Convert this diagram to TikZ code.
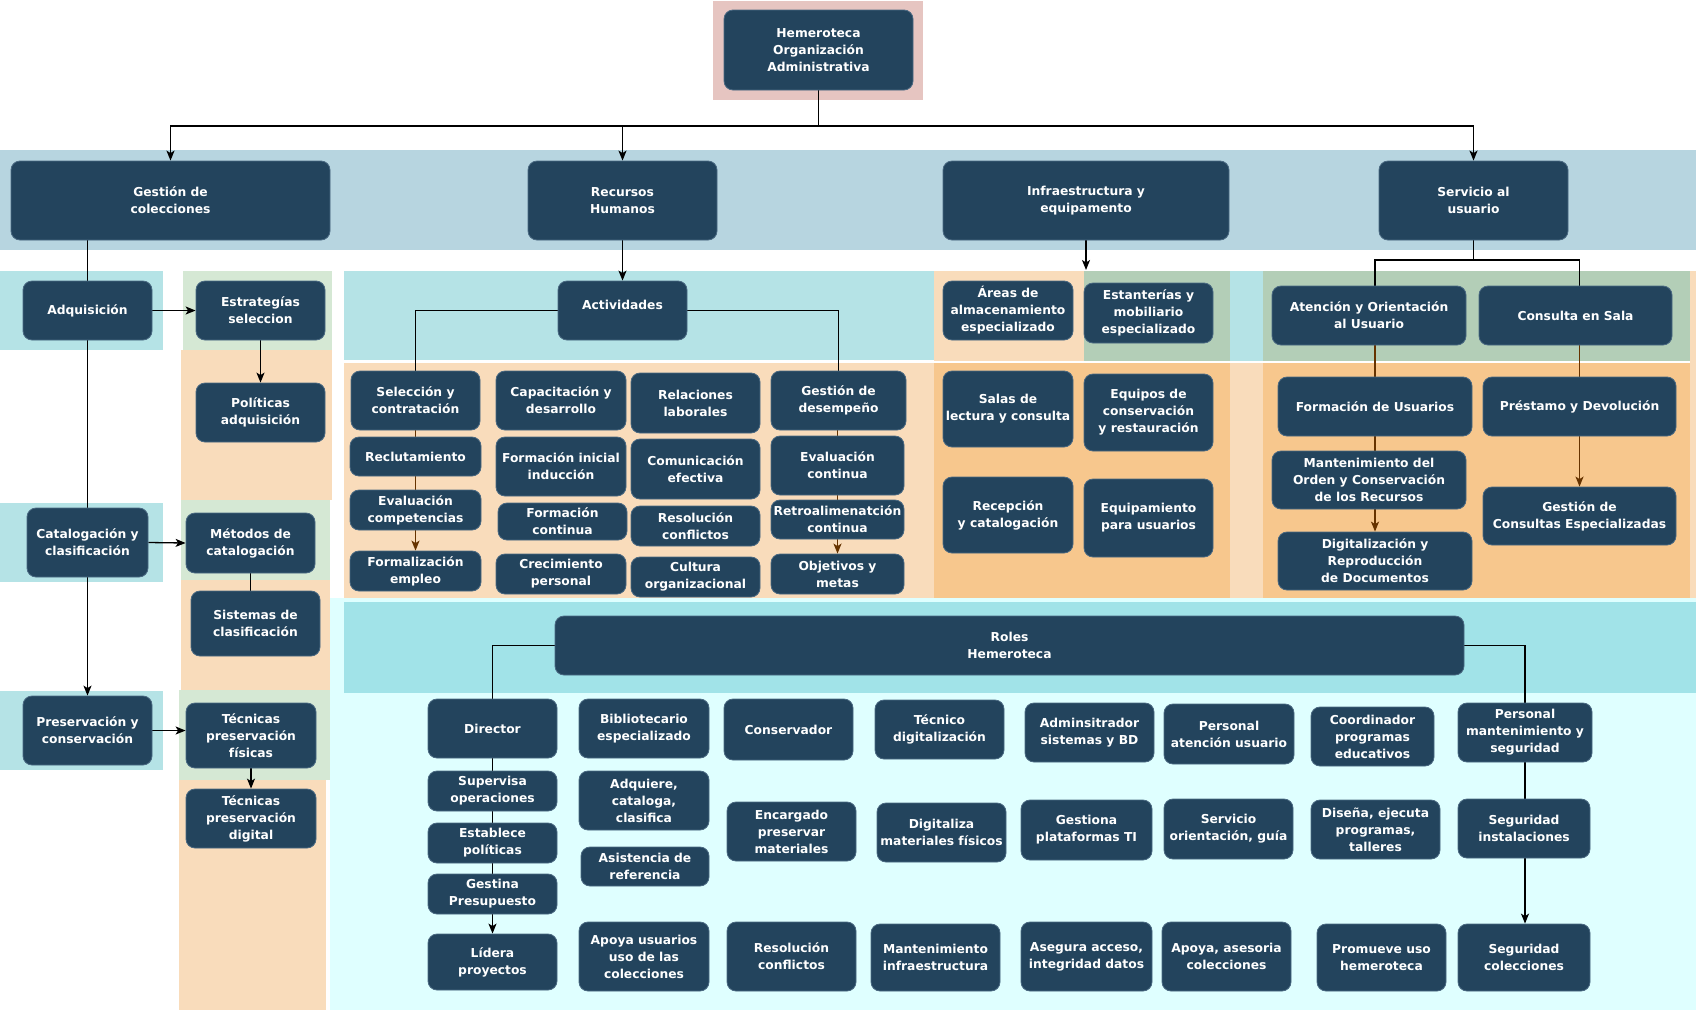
\documentclass[tikz,border=0pt]{standalone}
\usepackage{fontspec}
\setmainfont{DejaVu Sans}
\usepackage{tikz}
\usetikzlibrary{arrows.meta}
\pgfdeclarelayer{bands}
\pgfdeclarelayer{links}
\pgfsetlayers{bands,links,main}

\begin{document}
\begin{tikzpicture}[x=1pt,y=-1pt,
    cell/.style={draw=cellrim, fill=cellfill, line width=0.8pt, rounded corners=9pt,
        text=white, align=center, inner sep=0pt,
        font=\bfseries\fontsize{12.3}{17}\selectfont},
    wh/.style 2 args={minimum width=#1pt, minimum height=#2pt},
    link/.style={line width=1.3pt, draw=black},
    flow/.style={link, -{Stealth[length=10pt,width=8pt,inset=2.5pt]}},
    sublink/.style={line width=1.3pt, draw=linkbrown},
    subflow/.style={sublink, -{Stealth[length=10pt,width=8pt,inset=2.5pt]}}]
    % Define colors
    \definecolor{cellfill}{RGB}{35,68,93}
    \definecolor{cellrim}{RGB}{74,105,130}
    \definecolor{bandtop}{RGB}{183,213,224}
    \definecolor{bandcyan}{RGB}{181,227,230}
    \definecolor{bandgreen}{RGB}{213,232,212}
    \definecolor{bandsage}{RGB}{179,206,183}
    \definecolor{bandpeach}{RGB}{249,220,187}
    \definecolor{bandorange}{RGB}{247,199,141}
    \definecolor{bandpink}{RGB}{230,197,193}
    \definecolor{bandroles}{RGB}{161,227,232}
    \definecolor{bandpale}{RGB}{223,255,255}
    \definecolor{linkbrown}{RGB}{102,51,0}

    \useasboundingbox (0,0) rectangle (1696,1010);

    % Background bands
    \begin{pgfonlayer}{bands}
    \fill[bandpink] (713,1) rectangle (923,100);
    \fill[bandtop] (0,150) rectangle (1696,250);
    \fill[bandcyan] (0,271) rectangle (163,350);
    \fill[bandcyan] (0,503) rectangle (163,582);
    \fill[bandcyan] (0,691) rectangle (163,770);
    \fill[bandgreen] (183,271) rectangle (332,350);
    \fill[bandpeach] (181,350) rectangle (332,500);
    \fill[bandgreen] (181,500) rectangle (330,580);
    \fill[bandpeach] (181,580) rectangle (330,690);
    \fill[bandgreen] (179,690) rectangle (330,780);
    \fill[bandpeach] (179,780) rectangle (326,1010);
    \fill[bandcyan] (344,271) rectangle (934,360);
    \fill[bandpeach] (344,363) rectangle (934,600);
    \fill[bandpeach] (934,271) rectangle (1084,361);
    \fill[bandsage] (1084,271) rectangle (1230,361);
    \fill[bandorange] (934,363) rectangle (1230,600);
    \fill[bandcyan] (1230,271) rectangle (1263,361);
    \fill[bandpeach] (1230,363) rectangle (1263,600);
    \fill[bandsage] (1263,271) rectangle (1690,361);
    \fill[bandorange] (1263,363) rectangle (1690,602);
    \fill[bandpeach] (1690,271) rectangle (1696,602);
    \fill[bandpale] (330,598) rectangle (1696,1010);
    \fill[bandroles] (344,602) rectangle (1696,693);
    \end{pgfonlayer}

    % Top and first level
    \node[cell, wh={189}{80}] (hem) at (818.5,50) {Hemeroteca\\Organización\\Administrativa};
    \node[cell, wh={319}{79}] (gcol) at (170.5,200.5) {Gestión de\\colecciones};
    \node[cell, wh={189}{79}] (rrhh) at (622.5,200.5) {Recursos\\Humanos};
    \node[cell, wh={286}{79}] (infra) at (1086,200.5) {Infraestructura y\\equipamento};
    \node[cell, wh={189}{79}] (serv) at (1473.5,200.5) {Servicio al\\usuario};
    \coordinate (hemjoin) at (818.5,126);
    \coordinate (infraend) at (1086,270);

    % Gestion de colecciones
    \node[cell, wh={129}{59}] (adq) at (87.5,310.5) {Adquisición};
    \node[cell, wh={129}{59}] (estr) at (260.5,310.5) {Estrategías\\seleccion};
    \node[cell, wh={129}{59}] (polit) at (260.5,412.5) {Políticas\\adquisición};
    \node[cell, wh={121}{69}] (catal) at (87.5,542.5) {Catalogación y\\clasificación};
    \node[cell, wh={129}{60}] (metod) at (250.5,543) {Métodos de\\catalogación};
    \node[cell, wh={129}{65}] (sistm) at (255.5,623.5) {Sistemas de\\clasificación};
    \node[cell, wh={129}{69}] (presv) at (87.5,730.5) {Preservación y\\conservación};
    \node[cell, wh={130}{65}] (tfis) at (251,735.5) {Técnicas\\preservación\\físicas};
    \node[cell, wh={130}{59}] (tdig) at (251,818.5) {Técnicas\\preservación\\digital};

    % Recursos humanos
    \node[cell, wh={129}{59}, text depth=12pt] (activ) at (622.5,310.5) {Actividades};
    \node[cell, wh={129}{59}] (selec) at (415.5,400.5) {Selección y\\contratación};
    \node[cell, wh={131}{39}] (reclu) at (415.5,456.5) {Reclutamiento};
    \node[cell, wh={131}{40}] (evcom) at (415.5,510) {Evaluación\\competencias};
    \node[cell, wh={131}{40}] (forme) at (415.5,571) {Formalización\\empleo};
    \node[cell, wh={130}{59}] (capac) at (561,400.5) {Capacitación y\\desarrollo};
    \node[cell, wh={130}{59}] (finic) at (561,466.5) {Formación inicial\\inducción};
    \node[cell, wh={129}{37}] (fcont) at (562.5,521.5) {Formación\\continua};
    \node[cell, wh={130}{40}] (creci) at (561,574) {Crecimiento\\personal};
    \node[cell, wh={129}{60}] (relac) at (695.5,403) {Relaciones\\laborales};
    \node[cell, wh={129}{60}] (comun) at (695.5,469) {Comunicación\\efectiva};
    \node[cell, wh={129}{40}] (rconf) at (695.5,526) {Resolución\\conflictos};
    \node[cell, wh={129}{40}] (cultu) at (695.5,577) {Cultura\\organizacional};
    \node[cell, wh={135}{59}] (gdes) at (838.5,400.5) {Gestión de\\desempeño};
    \node[cell, wh={133}{59}] (evcon) at (837.5,465.5) {Evaluación\\continua};
    \node[cell, wh={133}{39}] (retro) at (837.5,519.5) {Retroalimenatción\\continua};
    \node[cell, wh={133}{40}] (objet) at (837.5,574) {Objetivos y\\metas};

    % Infraestructura
    \node[cell, wh={130}{59}] (areas) at (1008,310.5) {Áreas de\\almacenamiento\\especializado};
    \node[cell, wh={129}{60}] (estan) at (1148.5,313) {Estanterías y\\mobiliario\\especializado};
    \node[cell, wh={130}{76}] (salas) at (1008,409) {Salas de\\lectura y consulta};
    \node[cell, wh={129}{77}] (equip) at (1148.5,412.5) {Equipos de\\conservación\\y restauración};
    \node[cell, wh={130}{76}] (recep) at (1008,515) {Recepción\\y catalogación};
    \node[cell, wh={129}{78}] (equsr) at (1148.5,518) {Equipamiento\\para usuarios};

    % Servicio al usuario
    \coordinate (servjoin) at (1473.5,260);
    \node[cell, wh={194}{59}] (atenc) at (1369,315.5) {Atención y Orientación\\al Usuario};
    \node[cell, wh={193}{59}] (consu) at (1575.5,315.5) {Consulta en Sala};
    \node[cell, wh={194}{59}] (fusua) at (1375,406.5) {Formación de Usuarios};
    \node[cell, wh={193}{59}] (prest) at (1579.5,406.5) {Préstamo y Devolución};
    \node[cell, wh={194}{58}] (mante) at (1369,480) {Mantenimiento del\\Orden y Conservación\\de los Recursos};
    \node[cell, wh={194}{58}] (digit) at (1375,561) {Digitalización y\\Reproducción\\de Documentos};
    \node[cell, wh={193}{58}] (gcesp) at (1579.5,516) {Gestión de\\Consultas Especializadas};

    % Roles
    \node[cell, wh={909}{59}] (roles) at (1009.5,645.5) {Roles\\Hemeroteca};
    \node[cell, wh={129}{59}] (direc) at (492.5,728.5) {Director};
    \node[cell, wh={129}{40}] (super) at (492.5,791) {Supervisa\\operaciones};
    \node[cell, wh={129}{40}] (estab) at (492.5,843) {Establece\\políticas};
    \node[cell, wh={129}{40}] (gpres) at (492.5,894) {Gestina\\Presupuesto};
    \node[cell, wh={129}{56}] (lider) at (492.5,962) {Lídera\\proyectos};
    \node[cell, wh={130}{59}] (bibli) at (644,728.5) {Bibliotecario\\especializado};
    \node[cell, wh={130}{59}] (adqui) at (644,800.5) {Adquiere,\\cataloga,\\clasifica};
    \node[cell, wh={128}{39}] (asist) at (645,866.5) {Asistencia de\\referencia};
    \node[cell, wh={130}{69}] (apoyu) at (644,956.5) {Apoya usuarios\\uso de las\\colecciones};
    \node[cell, wh={129}{61}] (conse) at (788.5,729.5) {Conservador};
    \node[cell, wh={129}{59}] (encar) at (791.5,831.5) {Encargado\\preservar\\materiales};
    \node[cell, wh={129}{69}] (resol) at (791.5,956.5) {Resolución\\conflictos};
    \node[cell, wh={129}{59}] (tecdi) at (939.5,729.5) {Técnico\\digitalización};
    \node[cell, wh={129}{59}] (digmf) at (941.5,832.5) {Digitaliza\\materiales físicos};
    \node[cell, wh={129}{67}] (minfr) at (935.5,957.5) {Mantenimiento\\infraestructura};
    \node[cell, wh={129}{59}] (admin) at (1089.5,732.5) {Adminsitrador\\sistemas y BD};
    \node[cell, wh={131}{60}] (gplat) at (1086.5,830) {Gestiona\\plataformas TI};
    \node[cell, wh={131}{69}] (asegu) at (1086.5,956.5) {Asegura acceso,\\integridad datos};
    \node[cell, wh={130}{60}] (patus) at (1229,734) {Personal\\atención usuario};
    \node[cell, wh={129}{60}] (sorie) at (1228.5,829) {Servicio\\orientación, guía};
    \node[cell, wh={129}{69}] (apase) at (1226.5,956.5) {Apoya, asesoria\\colecciones};
    \node[cell, wh={123}{59}] (coord) at (1372.5,736.5) {Coordinador\\programas\\educativos};
    \node[cell, wh={129}{59}] (disen) at (1375.5,829.5) {Diseña, ejecuta\\programas,\\talleres};
    \node[cell, wh={129}{67}] (promu) at (1381.5,957.5) {Promueve uso\\hemeroteca};
    \node[cell, wh={134}{59}] (pmant) at (1525,732.5) {Personal\\mantenimiento y\\seguridad};
    \node[cell, wh={132}{59}] (seins) at (1524,828.5) {Seguridad\\instalaciones};
    \node[cell, wh={132}{67}] (secol) at (1524,957.5) {Seguridad\\colecciones};

    % Connectors
    \begin{pgfonlayer}{links}
    \draw[link] (hem.south) -- (hemjoin);
    \foreach \n in {gcol,rrhh,serv}
        \draw[flow] (hemjoin) -| (\n.north);
    \draw[flow] (rrhh.south) -- (activ.north);
    \draw[flow] (infra.south) -- (infraend);
    \draw[flow] (adq.north |- gcol.south) -- (presv.north);
    \draw[flow] (adq.east) -- (estr.west);
    \draw[flow] (estr.south) -- (polit.north);
    \draw[flow] (catal.east) -- (metod.west);
    \draw[link] (metod.south) -- (metod.south |- sistm.north);
    \draw[flow] (presv.east) -- (presv.east -| tfis.west);
    \draw[flow] (tfis.south) -- (tdig.north);
    \draw[link] (activ.west) -| (selec.north);
    \draw[link] (activ.east) -| (gdes.north);
    \draw[sublink] (selec.south) -- (reclu.north);
    \draw[sublink] (reclu.south) -- (evcom.north);
    \draw[subflow] (evcom.south) -- (forme.north);
    \draw[sublink] (evcon.north |- gdes.south) -- (evcon.north);
    \draw[sublink] (evcon.south) -- (retro.north);
    \draw[subflow] (retro.south) -- (objet.north);
    \draw[link] (serv.south) -- (servjoin);
    \draw[link] (servjoin) -| (fusua.north |- atenc.north);
    \draw[link] (servjoin) -| (prest.north |- consu.north);
    \draw[sublink] (fusua.north |- atenc.south) -- (fusua.north);
    \draw[sublink] (prest.north |- consu.south) -- (prest.north);
    \draw[sublink] (fusua.south) -- (fusua.south |- mante.north);
    \draw[subflow] (fusua.south |- mante.south) -- (digit.north);
    \draw[subflow] (prest.south) -- (gcesp.north);
    \draw[link] (roles.west) -| (direc.north);
    \draw[link] (roles.east) -| (pmant.north);
    \draw[link] (direc.south) -- (super.north);
    \draw[link] (super.south) -- (estab.north);
    \draw[link] (estab.south) -- (gpres.north);
    \draw[flow] (gpres.south) -- (lider.north);
    \draw[link] (pmant.south |- pmant.south) -- (pmant.south |- seins.north);
    \draw[flow] (pmant.south |- seins.south) -- (pmant.south |- secol.north);
    \end{pgfonlayer}
\end{tikzpicture}
\end{document}
